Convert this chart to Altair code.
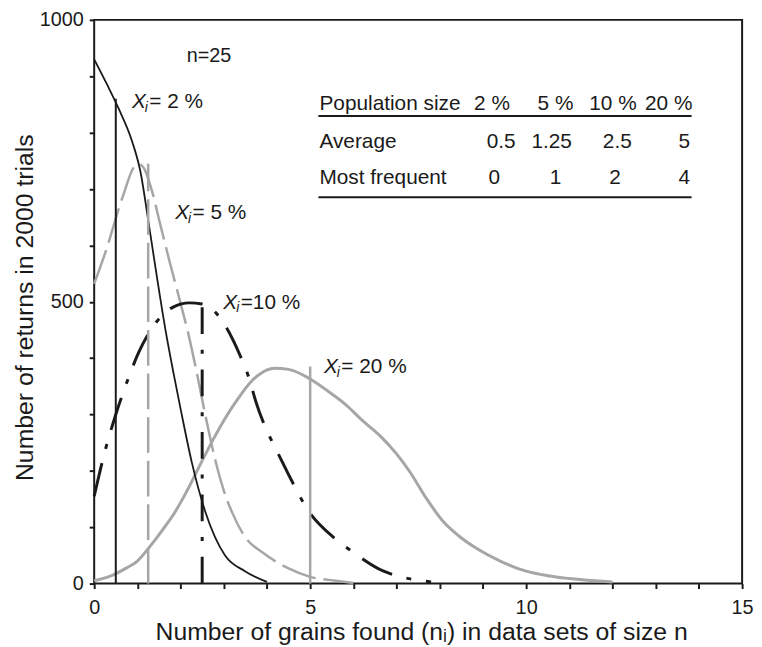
import altair as alt
import pandas as pd

# ---------------- data ----------------
# 2 % population (black, thin solid)
x_2 = [0, 0.3, 0.57, 0.88, 1.07, 1.26, 1.45, 1.65, 1.84, 2.0, 2.26, 2.57, 2.8, 3.03, 3.49, 4.0]
y_2 = [930, 885, 842, 784, 731, 640, 545, 450, 372, 310, 215, 128, 82, 50, 22, 3]

# 5 % population (grey, dashed)
x_5 = [0, 0.27, 0.65, 0.96, 1.05, 1.15, 1.34, 1.53, 1.76, 1.99, 2.18, 2.37, 2.57, 2.8, 3.0, 3.2, 3.5, 3.9, 4.5, 5.0, 5.6, 6.0]
y_5 = [532, 590, 684, 742, 744, 737, 696, 637, 567, 500, 443, 376, 300, 220, 165, 125, 82, 55, 27, 12, 5, 1]

# 10 % population (black, dash-dot)
x_10 = [0, 0.25, 0.5, 0.77, 1.03, 1.45, 1.84, 2.2, 2.5, 2.76, 3.03, 3.37, 3.56, 3.75, 4.36, 4.63, 4.9, 5.57, 5.97, 6.7, 7.05, 7.8]
y_10 = [155, 235, 300, 360, 410, 465, 491, 498, 496, 485, 458, 406, 370, 321, 215, 174, 136, 80, 57, 22, 13, 3]

# 20 % population (grey, thick solid)
x_20 = [0, 0.4, 0.73, 1.0, 1.26, 1.58, 1.88, 2.2, 2.48, 2.75, 3.03, 3.33, 3.63, 3.9, 4.18, 4.5, 5.0, 5.4, 5.86, 6.2, 6.62, 7.0, 7.31, 7.7, 8.08, 8.45, 8.84, 9.4, 10.0, 10.5, 11.0, 12.0]
y_20 = [5, 14, 27, 40, 63, 95, 128, 172, 215, 255, 293, 328, 358, 375, 382, 380, 363, 342, 315, 290, 262, 230, 198, 150, 110, 84, 63, 40, 22, 14, 9, 3]

# averages (vertical markers) and their heights
avg_x = [0.5, 1.25, 2.5, 5.0]
avg_top = [860, 745, 517, 385]

# curve labels
label_rest = ["= 2 %", "= 5 %", "=10 %", "= 20 %"]
label_x = [0.873, 1.876, 2.99, 5.32]
label_y = [843, 646, 488, 373]

# table
tbl_rows = ["Population size", "Average", "Most frequent"]
tbl_header = ["2 %", "5 %", "10 %", "20 %"]
tbl_average = ["0.5", "1.25", "2.5", "5"]
tbl_mostfreq = ["0", "1", "2", "4"]

# table layout (data coordinates)
tbl_row_x = 5.215
tbl_row_y = [840, 773, 708]
tbl_header_x = [9.21, 10.68, 12.01, 13.30]
tbl_average_x = [9.42, 10.59, 12.11, 13.66]
tbl_mostfreq_x = [9.26, 10.68, 12.06, 13.66]
tbl_line_y = [829.4, 685.4]
tbl_line_x = [5.19, 13.83]

FONT = "Liberation Sans"
BLACK = "#1a1a1a"
GREY = "#a6a6a6"
TXT = 21

x_axis = alt.Axis(
    values=list(range(16)),
    labelExpr="datum.value % 5 == 0 ? datum.label : ''",
    format="d",
    title="Number of grains found (nᵢ) in data sets of size n",
    titleFont=FONT, titleFontSize=25, titleFontWeight="normal", titleColor=BLACK,
    titleX=330, titleY=56, titleAlign="center", titleBaseline="alphabetic",
    labelFont=FONT, labelFontSize=20, labelColor=BLACK, labelFlush=False,
    labelPadding=9, labelOverlap=False,
    tickSize=5, tickWidth=2, tickColor=BLACK, domain=False, grid=False,
)
y_axis = alt.Axis(
    values=list(range(0, 1001, 100)),
    labelExpr="datum.value % 500 == 0 ? datum.label : ''",
    format="d",
    title="Number of returns in 2000 trials",
    titleFont=FONT, titleFontSize=25, titleFontWeight="normal", titleColor=BLACK,
    titleX=-70, titleY=290, titleAngle=270, titleAlign="center", titleBaseline="middle",
    labelFont=FONT, labelFontSize=20, labelColor=BLACK, labelFlush=False,
    labelPadding=6, labelOverlap=False,
    tickSize=5, tickWidth=2, tickColor=BLACK, domain=False, grid=False,
)
xs = alt.Scale(domain=[0, 15], nice=False)
ys = alt.Scale(domain=[0, 1000], nice=False)


def X(f="x"):
    return alt.X(f"{f}:Q", scale=xs, axis=x_axis)


def Y(f="y"):
    return alt.Y(f"{f}:Q", scale=ys, axis=y_axis)


def curve(xv, yv, color, width, dash=None):
    df = pd.DataFrame({"x": xv, "y": yv})
    kw = dict(color=color, strokeWidth=width, interpolate="monotone")
    if dash:
        kw["strokeDash"] = dash
    return alt.Chart(df).mark_line(**kw).encode(x=X(), y=Y())


def vline(i, color, width, dash=None):
    df = pd.DataFrame({"x": [avg_x[i]], "y": [0], "y2": [avg_top[i]]})
    kw = dict(color=color, strokeWidth=width)
    if dash:
        kw["strokeDash"] = dash
    return alt.Chart(df).mark_rule(**kw).encode(x=X(), y=Y(), y2="y2:Q")


layers = [
    curve(x_20, y_20, GREY, 3),
    curve(x_5, y_5, GREY, 2.5, [36, 8]),
    curve(x_10, y_10, BLACK, 3, [34, 15, 5, 15]),
    curve(x_2, y_2, BLACK, 1.8),
    vline(0, BLACK, 2),
    vline(1, GREY, 2.5, [36, 8]),
    vline(2, BLACK, 3, [27, 16, 4, 16]),
    vline(3, GREY, 2.5),
]

# curve labels: italic X, subscript i, rest
lab = pd.DataFrame({"x": label_x, "y": label_y, "rest": label_rest, "X": ["X"] * 4, "i": ["i"] * 4})
layers += [
    alt.Chart(lab).mark_text(font=FONT, fontSize=TXT, fontStyle="italic", align="left",
                             baseline="alphabetic", color=BLACK).encode(x=X(), y=Y(), text="X:N"),
    alt.Chart(lab).mark_text(font=FONT, fontSize=14, fontStyle="italic", align="left",
                             baseline="alphabetic", color=BLACK, dx=13, dy=4).encode(x=X(), y=Y(), text="i:N"),
    alt.Chart(lab).mark_text(font=FONT, fontSize=TXT, align="left",
                             baseline="alphabetic", color=BLACK, dx=17.5).encode(x=X(), y=Y(), text="rest:N"),
]

# n=25
layers.append(
    alt.Chart(pd.DataFrame({"x": [2.14], "y": [926], "t": ["n=25"]}))
    .mark_text(font=FONT, fontSize=20, align="left", baseline="alphabetic", color=BLACK)
    .encode(x=X(), y=Y(), text="t:N")
)

# table
rows_df = pd.DataFrame({"x": [tbl_row_x] * 3, "y": tbl_row_y, "t": tbl_rows})
cells_df = pd.DataFrame({
    "x": tbl_header_x + tbl_average_x + tbl_mostfreq_x,
    "y": [tbl_row_y[0]] * 4 + [tbl_row_y[1]] * 4 + [tbl_row_y[2]] * 4,
    "t": tbl_header + tbl_average + tbl_mostfreq,
})
lines_df = pd.DataFrame({"x": [tbl_line_x[0]] * 2, "x2": [tbl_line_x[1]] * 2, "y": tbl_line_y})
layers += [
    alt.Chart(rows_df).mark_text(font=FONT, fontSize=TXT, align="left", baseline="alphabetic", color=BLACK)
    .encode(x=X(), y=Y(), text="t:N"),
    alt.Chart(cells_df).mark_text(font=FONT, fontSize=TXT, align="center", baseline="alphabetic", color=BLACK)
    .encode(x=X(), y=Y(), text="t:N"),
    alt.Chart(lines_df).mark_rule(color=BLACK, strokeWidth=2).encode(x=X(), x2="x2:Q", y=Y()),
]

chart = (
    alt.layer(*layers)
    .properties(
        width=654, height=569,
        autosize=alt.AutoSizeParams(type="none"),
        padding={"left": 87, "top": 9, "right": 12, "bottom": 60},
        background="white",
    )
    .configure_view(stroke=BLACK, strokeWidth=2)
)

chart.save("out.html", embed_options={"renderer": "svg", "actions": False})
